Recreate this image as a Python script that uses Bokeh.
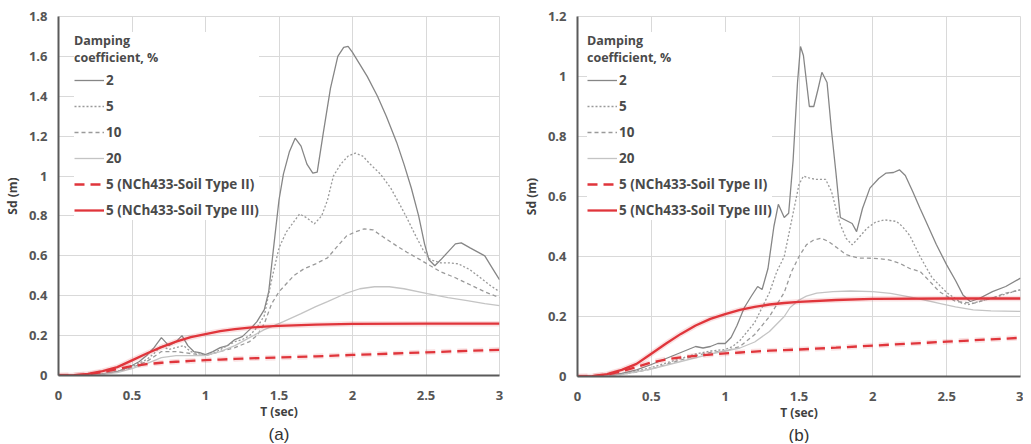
from bokeh.plotting import figure
from bokeh.layouts import row
from bokeh.models import Legend, LegendItem, FixedTicker, Range1d, Title
from bokeh.embed import file_html
from bokeh.resources import INLINE

# ---------------- data ----------------
x_ticks = [0, 0.5, 1, 1.5, 2, 2.5, 3]
x_labels = ["0", "0.5", "1", "1.5", "2", "2.5", "3"]
ya_ticks = [0, 0.2, 0.4, 0.6, 0.8, 1.0, 1.2, 1.4, 1.6, 1.8]
ya_labels = ["0", "0.2", "0.4", "0.6", "0.8", "1", "1.2", "1.4", "1.6", "1.8"]
yb_ticks = [0, 0.2, 0.4, 0.6, 0.8, 1.0, 1.2]
yb_labels = ["0", "0.2", "0.4", "0.6", "0.8", "1", "1.2"]

series_names = ["2", "5", "10", "20", "5 (NCh433-Soil Type II)", "5 (NCh433-Soil Type III)"]

# NCh433 design spectra (same in both panels)
nch_t = [0, 0.1, 0.2, 0.3, 0.4, 0.5, 0.6, 0.7, 0.8, 0.9, 1.0, 1.1, 1.2, 1.3, 1.4, 1.5, 1.75, 2.0, 2.5, 3.0]
nch_ii = [0, 0.001, 0.006, 0.017, 0.032, 0.047, 0.057, 0.064, 0.069, 0.073, 0.077, 0.08, 0.083, 0.086, 0.088, 0.09, 0.096, 0.103, 0.116, 0.129]
nch_iii = [0, 0.001, 0.008, 0.022, 0.042, 0.076, 0.11, 0.142, 0.17, 0.192, 0.208, 0.222, 0.232, 0.24, 0.245, 0.249, 0.255, 0.259, 0.26, 0.26]

# panel (a)
a_t2 = [0, 0.1, 0.2, 0.3, 0.4, 0.5, 0.55, 0.6, 0.65, 0.7, 0.75, 0.8, 0.84, 0.88, 0.92, 0.96, 1.0, 1.05, 1.1, 1.15, 1.2, 1.25, 1.3, 1.35, 1.4, 1.43, 1.46, 1.5, 1.53, 1.57, 1.61, 1.65, 1.69, 1.73, 1.76, 1.8, 1.85, 1.9, 1.94, 1.97, 2.0, 2.05, 2.1, 2.17, 2.23, 2.3, 2.35, 2.4, 2.45, 2.49, 2.52, 2.56, 2.6, 2.65, 2.7, 2.74, 2.8, 2.85, 2.9, 2.95, 3.0]
a_sd2 = [0, 0, 0.002, 0.008, 0.02, 0.05, 0.07, 0.1, 0.14, 0.19, 0.15, 0.17, 0.2, 0.15, 0.12, 0.115, 0.105, 0.12, 0.14, 0.15, 0.18, 0.195, 0.23, 0.27, 0.33, 0.42, 0.62, 0.88, 1.01, 1.12, 1.19, 1.15, 1.06, 1.015, 1.02, 1.21, 1.44, 1.6, 1.645, 1.65, 1.62, 1.56, 1.5, 1.4, 1.3, 1.17, 1.06, 0.94, 0.8, 0.66, 0.58, 0.55, 0.58, 0.62, 0.66, 0.665, 0.64, 0.62, 0.6, 0.54, 0.48]
a_t5 = [0, 0.2, 0.3, 0.4, 0.5, 0.6, 0.65, 0.7, 0.75, 0.8, 0.85, 0.9, 0.95, 1.0, 1.05, 1.1, 1.15, 1.2, 1.25, 1.3, 1.35, 1.4, 1.45, 1.5, 1.55, 1.6, 1.64, 1.69, 1.74, 1.79, 1.83, 1.87, 1.92, 1.97, 2.02, 2.07, 2.12, 2.19, 2.26, 2.32, 2.37, 2.43, 2.48, 2.53, 2.6, 2.66, 2.72, 2.8, 2.87, 2.94, 3.0]
a_sd5 = [0, 0.002, 0.008, 0.02, 0.045, 0.08, 0.11, 0.15, 0.13, 0.14, 0.15, 0.12, 0.11, 0.1, 0.11, 0.13, 0.15, 0.17, 0.18, 0.2, 0.24, 0.3, 0.48, 0.64, 0.72, 0.77, 0.81, 0.79, 0.76, 0.8, 0.88, 1.0, 1.06, 1.1, 1.115, 1.1, 1.06, 1.01, 0.94, 0.86, 0.79, 0.7, 0.63, 0.58, 0.565, 0.565, 0.56, 0.53, 0.49, 0.45, 0.42]
a_t10 = [0, 0.2, 0.3, 0.4, 0.5, 0.6, 0.7, 0.8, 0.9, 1.0, 1.1, 1.2, 1.3, 1.35, 1.4, 1.45, 1.5, 1.55, 1.6, 1.67, 1.75, 1.83, 1.9, 1.96, 2.02, 2.08, 2.14, 2.21, 2.3, 2.37, 2.45, 2.53, 2.6, 2.7, 2.8, 2.9, 3.0]
a_sd10 = [0, 0.002, 0.007, 0.018, 0.04, 0.07, 0.12, 0.12, 0.11, 0.1, 0.12, 0.14, 0.17, 0.2, 0.26, 0.36, 0.42, 0.46, 0.5, 0.535, 0.56, 0.59, 0.65, 0.7, 0.72, 0.735, 0.73, 0.694, 0.65, 0.618, 0.585, 0.55, 0.52, 0.49, 0.455, 0.42, 0.39]
a_t20 = [0, 0.2, 0.3, 0.4, 0.5, 0.6, 0.7, 0.8, 0.9, 1.0, 1.1, 1.2, 1.3, 1.4, 1.53, 1.65, 1.75, 1.83, 1.95, 2.05, 2.15, 2.25, 2.35, 2.51, 2.65, 2.78, 2.9, 3.0]
a_sd20 = [0, 0.002, 0.006, 0.015, 0.035, 0.06, 0.09, 0.1, 0.1, 0.1, 0.12, 0.15, 0.19, 0.23, 0.27, 0.31, 0.345, 0.37, 0.41, 0.435, 0.445, 0.445, 0.435, 0.41, 0.39, 0.375, 0.36, 0.35]

# panel (b)
b_t2 = [0, 0.2, 0.3, 0.4, 0.5, 0.6, 0.7, 0.75, 0.8, 0.85, 0.9, 0.95, 1.0, 1.04, 1.08, 1.13, 1.18, 1.22, 1.25, 1.29, 1.33, 1.36, 1.4, 1.43, 1.46, 1.49, 1.51, 1.53, 1.57, 1.6, 1.63, 1.655, 1.69, 1.72, 1.75, 1.78, 1.82, 1.86, 1.89, 1.93, 1.98, 2.04, 2.09, 2.14, 2.18, 2.22, 2.27, 2.32, 2.36, 2.43, 2.5, 2.56, 2.61, 2.66, 2.72, 2.81, 2.9, 3.0]
b_sd2 = [0, 0.003, 0.01, 0.022, 0.04, 0.06, 0.08, 0.09, 0.1, 0.095, 0.1, 0.11, 0.11, 0.13, 0.17, 0.23, 0.27, 0.3, 0.29, 0.36, 0.5, 0.574, 0.53, 0.544, 0.72, 0.98, 1.1, 1.07, 0.9, 0.9, 0.96, 1.014, 0.98, 0.82, 0.68, 0.53, 0.52, 0.51, 0.483, 0.56, 0.628, 0.66, 0.678, 0.68, 0.689, 0.67, 0.617, 0.56, 0.517, 0.44, 0.372, 0.32, 0.272, 0.25, 0.26, 0.283, 0.3, 0.328]
b_t5 = [0, 0.3, 0.4, 0.5, 0.6, 0.7, 0.8, 0.9, 1.0, 1.05, 1.1, 1.2, 1.3, 1.35, 1.4, 1.45, 1.5, 1.53, 1.58, 1.62, 1.68, 1.72, 1.75, 1.78, 1.82, 1.86, 1.9, 1.96, 2.02, 2.08, 2.16, 2.2, 2.25, 2.32, 2.4, 2.5, 2.6, 2.65, 2.72, 2.8, 2.9, 3.0]
b_sd5 = [0, 0.008, 0.018, 0.03, 0.045, 0.06, 0.075, 0.085, 0.09, 0.1, 0.12, 0.18, 0.28, 0.35, 0.4, 0.52, 0.64, 0.668, 0.66, 0.657, 0.657, 0.617, 0.56, 0.506, 0.46, 0.439, 0.46, 0.494, 0.515, 0.522, 0.517, 0.5, 0.47, 0.4, 0.33, 0.28, 0.245, 0.24, 0.25, 0.26, 0.275, 0.29]
b_t10 = [0, 0.3, 0.4, 0.5, 0.6, 0.7, 0.8, 0.9, 1.0, 1.1, 1.2, 1.3, 1.4, 1.45, 1.5, 1.55, 1.6, 1.65, 1.7, 1.76, 1.82, 1.9, 2.0, 2.1, 2.18, 2.25, 2.32, 2.38, 2.45, 2.56, 2.68, 2.8, 2.9, 3.0]
b_sd10 = [0, 0.007, 0.015, 0.025, 0.04, 0.055, 0.07, 0.08, 0.085, 0.1, 0.14, 0.2, 0.28, 0.35, 0.4, 0.439, 0.455, 0.461, 0.45, 0.428, 0.406, 0.395, 0.394, 0.39, 0.378, 0.36, 0.35, 0.32, 0.283, 0.25, 0.244, 0.26, 0.278, 0.288]
b_t20 = [0, 0.3, 0.5, 0.7, 0.9, 1.0, 1.1, 1.2, 1.3, 1.4, 1.44, 1.5, 1.55, 1.62, 1.73, 1.85, 2.0, 2.12, 2.23, 2.35, 2.45, 2.56, 2.68, 2.8, 3.0]
b_sd20 = [0, 0.006, 0.025, 0.05, 0.075, 0.085, 0.095, 0.115, 0.15, 0.2, 0.23, 0.255, 0.268, 0.278, 0.283, 0.285, 0.283, 0.277, 0.267, 0.255, 0.244, 0.232, 0.222, 0.219, 0.217]

# ---------------- styling ----------------
FONT = "Open Sans"
RED = "#e0353b"
styles = [
    dict(color="#868686", line_width=1.3, line_dash="solid"),
    dict(color="#9a9a9a", line_width=1.3, line_dash="2 2"),
    dict(color="#9a9a9a", line_width=1.3, line_dash="4 3"),
    dict(color="#c4c4c4", line_width=1.3, line_dash="solid"),
    dict(color=RED, line_width=2.3, line_dash="10 6"),
    dict(color=RED, line_width=2.3, line_dash="solid"),
]

LEGEND_H = 204  # legend box height used for placement, px


def make_panel(tag, ymax, yticks, ylabels, data, border_left, border_right, frame_w, leg_x, border_top):
    fh = 359 if ymax > 1.5 else 360
    p = figure(output_backend="svg", toolbar_location=None,
               frame_width=frame_w, frame_height=fh,
               min_border_left=border_left, min_border_right=border_right,
               min_border_top=border_top, min_border_bottom=10,
               x_range=Range1d(0, 3), y_range=Range1d(0, ymax))
    p.background_fill_color = "white"
    p.border_fill_color = "white"
    p.outline_line_color = "#d9d9d9"
    p.grid.grid_line_color = "#d9d9d9"
    p.grid.grid_line_width = 1

    p.xaxis.ticker = FixedTicker(ticks=x_ticks)
    p.xaxis.major_label_overrides = dict(zip(x_ticks, x_labels))
    p.yaxis.ticker = FixedTicker(ticks=yticks)
    p.yaxis.major_label_overrides = dict(zip(yticks, ylabels))
    p.xgrid.ticker = FixedTicker(ticks=x_ticks)
    p.ygrid.ticker = FixedTicker(ticks=yticks)

    for ax in (p.xaxis, p.yaxis):
        ax.axis_line_color = "#5a5a5a"
        ax.axis_line_width = 2
        ax.major_tick_line_color = None
        ax.minor_tick_line_color = None
        ax.major_label_text_font = FONT
        ax.major_label_text_font_style = "bold"
        ax.major_label_text_font_size = "13px"
        ax.major_label_text_color = "#555555"
        ax.axis_label_text_font = FONT
        ax.axis_label_text_font_style = "bold"
        ax.axis_label_text_font_size = "12px"
        ax.axis_label_text_color = "#404040"
    p.xaxis.axis_label = "T (sec)"
    p.yaxis.axis_label = "Sd (m)"
    p.xaxis.major_label_standoff = 9
    p.xaxis.axis_label_standoff = 0
    p.yaxis.major_label_standoff = 5
    p.yaxis.axis_label_standoff = 5

    renderers = []
    for (t, v), st in zip(data, styles):
        if st["color"] == RED:
            p.line(t, v, color=RED, line_width=5.5, line_alpha=0.15, line_dash=st["line_dash"])
        r = p.line(t, v, line_cap="butt", **st)
        renderers.append(r)

    items = [LegendItem(label=n, renderers=[r]) for n, r in zip(series_names, renderers)]
    legend = Legend(items=items, location=(leg_x, fh - LEGEND_H), title="Damping\ncoefficient, %",
                    title_text_font=FONT, title_text_font_size="12.5px",
                    title_text_color="#4a4a4a", title_text_font_style="bold",
                    title_text_line_height=1.55,
                    title_standoff=4,
                    label_text_font=FONT, label_text_font_size="13.5px",
                    label_text_color="#4a4a4a", label_text_font_style="bold",
                    glyph_width=30, glyph_height=20, label_height=20,
                    label_standoff=2, spacing=6, padding=10, margin=0,
                    border_line_color=None, background_fill_color="white",
                    background_fill_alpha=1.0)
    p.add_layout(legend)

    t = Title(text=tag, align="center", text_font="Liberation Sans",
              text_font_size="17px", text_font_style="normal", text_color="#333333",
              standoff=0, offset=0)
    p.add_layout(t, "below")
    return p


data_a = [(a_t2, a_sd2), (a_t5, a_sd5), (a_t10, a_sd10), (a_t20, a_sd20), (nch_t, nch_ii), (nch_t, nch_iii)]
data_b = [(b_t2, b_sd2), (b_t5, b_sd5), (b_t10, b_sd10), (b_t20, b_sd20), (nch_t, nch_ii), (nch_t, nch_iii)]

pa = make_panel("(a)", 1.8, ya_ticks, ya_labels, data_a, 50, 18, 441, 16, 16)
pb = make_panel("(b)", 1.2, yb_ticks, yb_labels, data_b, 60, 3, 443, 10, 15)

layout = row(pa, pb)
open("out.html", "w").write(file_html(layout, INLINE))
